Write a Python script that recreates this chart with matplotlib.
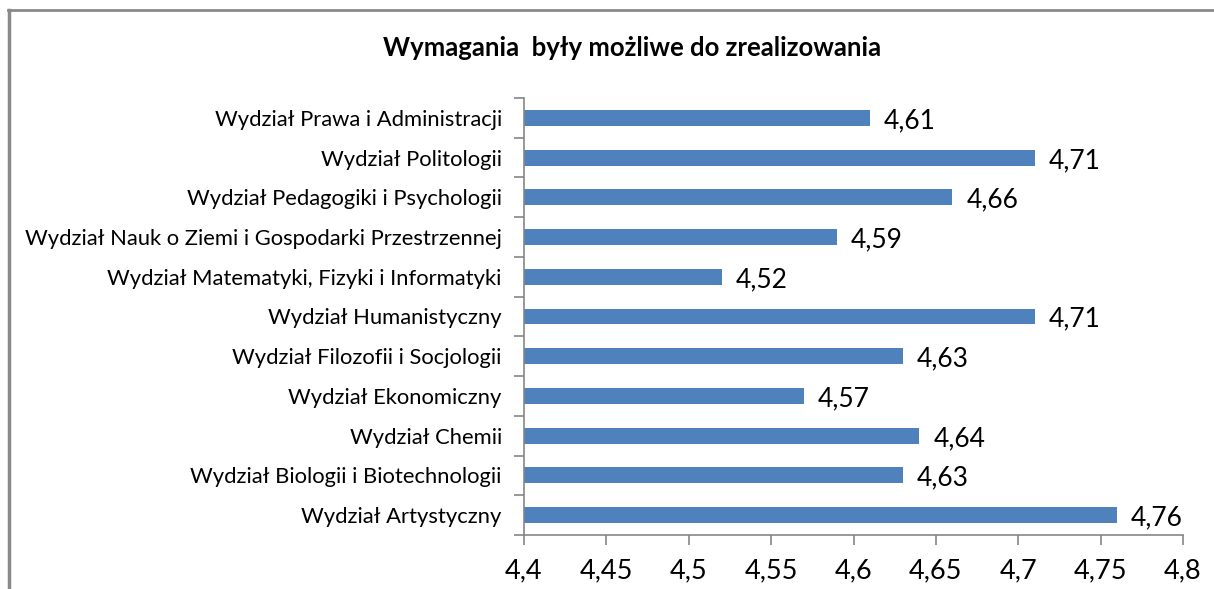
import numpy as np
import matplotlib.pyplot as plt
from matplotlib.lines import Line2D

faculties = [
    'Wydział Artystyczny',
    'Wydział Biologii i Biotechnologii',
    'Wydział Chemii',
    'Wydział Ekonomiczny',
    'Wydział Filozofii i Socjologii',
    'Wydział Humanistyczny',
    'Wydział Matematyki, Fizyki i Informatyki',
    'Wydział Nauk o Ziemi i Gospodarki Przestrzennej',
    'Wydział Pedagogiki i Psychologii',
    'Wydział Politologii',
    'Wydział Prawa i Administracji',
]
scores = [4.76, 4.63, 4.64, 4.57, 4.63, 4.71, 4.52, 4.59, 4.66, 4.71, 4.61]
x_ticks = [4.4, 4.45, 4.5, 4.55, 4.6, 4.65, 4.7, 4.75, 4.8]
title = 'Wymagania  były możliwe do zrealizowania'

plt.rcParams['font.family'] = ['Lato', 'DejaVu Sans']

fig = plt.figure(figsize=(12.14, 5.89), dpi=100)
ax = fig.add_axes([524 / 1214, 1 - 535 / 589, (1183 - 524) / 1214, (535 - 98) / 589])

y = np.arange(len(faculties))
base = 4.4
ax.barh(y, np.array(scores) - base, left=base, height=0.4, color='#4F81BD')

for yi, v in zip(y, scores):
    ax.annotate(f'{v:.2f}'.replace('.', ','), (v, yi), xytext=(10, -2),
                textcoords='offset points', va='center', ha='left', fontsize=19)

ax.set_xlim(4.4, 4.8)
ax.set_ylim(-0.5, len(faculties) - 0.5)
ax.set_xticks(x_ticks)
ax.set_xticklabels([f'{t:g}'.replace('.', ',') for t in x_ticks], fontsize=19.5)
ax.set_yticks(y)
ax.set_yticklabels(faculties, fontsize=15.8)
ax.set_yticks(np.arange(-0.5, len(faculties), 1), minor=True)
ax.tick_params(axis='y', which='major', length=0, pad=16)
ax.tick_params(axis='y', which='minor', length=7, color='#868686', width=1.2)
ax.tick_params(axis='x', length=7, color='#868686', width=1.2, pad=10)

for s in ['top', 'right']:
    ax.spines[s].set_visible(False)
for s in ['left', 'bottom']:
    ax.spines[s].set_color('#868686')
    ax.spines[s].set_linewidth(1.2)

fig.text(632 / 1214, 1 - 48 / 589, title, ha='center', va='center', fontsize=18.5, fontweight='bold')

# outer chart frame (only left and top visible in crop)
fig.add_artist(Line2D([9 / 1214, 9 / 1214], [0, 1 - 10 / 589], transform=fig.transFigure,
                      color='#8a8a8a', lw=2.5))
fig.add_artist(Line2D([8 / 1214, 1], [1 - 10 / 589, 1 - 10 / 589], transform=fig.transFigure,
                      color='#8a8a8a', lw=2))

fig.savefig('out.png', dpi=100)
